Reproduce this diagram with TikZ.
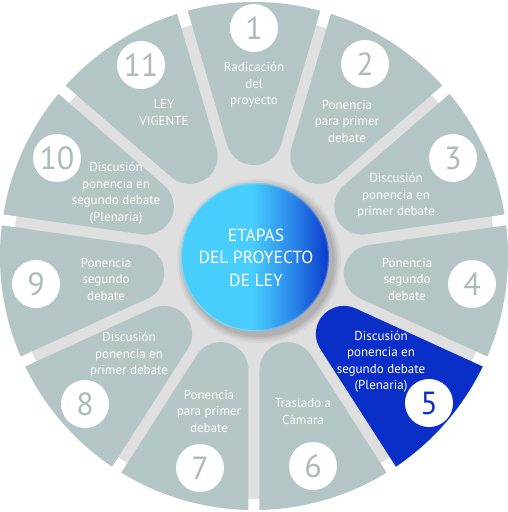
\documentclass[tikz,border=0pt]{standalone}
\usepackage{fontspec}
\setmainfont{PT Sans}
\usetikzlibrary{calc}
\definecolor{wedgegray}{HTML}{B4C5C5}
\definecolor{wedgeblue}{HTML}{0A2FC8}
\definecolor{bggray}{HTML}{DFDFDF}
\definecolor{numgray}{HTML}{A9BCBB}
\definecolor{ballcyan}{HTML}{48CEFC}
\definecolor{ballmid}{HTML}{2C8AEB}
\definecolor{balldark}{HTML}{0B3BCB}
\pgfdeclarehorizontalshading{ballshade}{100bp}{color(0bp)=(ballcyan); color(49bp)=(ballcyan); color(62bp)=(ballmid); color(75bp)=(balldark); color(100bp)=(balldark)}
\tikzset{
  numcirc/.style={circle, fill=white, minimum size=48, inner sep=0pt, text=numgray, font=\fontsize{32}{32}\selectfont},
  lbl/.style={align=center, text=white, inner sep=0pt, font=\fontsize{13}{16.5}\selectfont},
  centerlbl/.style={align=center, text=white, inner sep=0pt, font=\fontsize{17.5}{22.5}\selectfont}
}
\begin{document}
\begin{tikzpicture}[x=1pt,y=1pt]
\useasboundingbox (-254,-256) rectangle (254,256);
\fill[bggray] (0,-2) circle (241);
\pgfmathsetmacro\al{360/22}
\pgfmathsetmacro\g{5.5}
\pgfmathsetmacro\dd{\g/sin(\al)}
\pgfmathsetmacro\rc{28}
\pgfmathsetmacro\DD{\rc/sin(\al)}
\begin{scope}
\clip (0,0) circle (254);
\foreach \k in {1,...,11}{
  \pgfmathsetmacro\th{90-(\k-1)*360/11}
  \pgfmathsetmacro\cx{(\dd+\DD)*cos(\th)}
  \pgfmathsetmacro\cy{(\dd+\DD)*sin(\th)}
  \pgfmathsetmacro\sa{\th+\al+90}
  \pgfmathsetmacro\ea{\th-\al+270}
  \pgfmathsetmacro\ra{\th-\al}
  \pgfmathsetmacro\la{\th+\al}
  \ifnum\k=5 \def\wc{wedgeblue}\else\def\wc{wedgegray}\fi
  \fill[\wc] ($(\cx,\cy)+(\sa:\rc)$) arc[start angle=\sa, end angle=\ea, radius=\rc]
     -- ++(\ra:330) -- ($(\cx,\cy)+(\sa:\rc)+(\la:330)$) -- cycle;
}
\end{scope}
% center ball shadow
\foreach \r/\o in {82/0.04,80/0.05,78/0.06,76/0.07}{
  \fill[black, opacity=\o] (5,-5) circle (\r);
}
\shade[shading=ballshade] (1,-1) circle (74);
\draw[white, opacity=0.25, line width=1pt] (1,-1) circle (73.5);
\node[centerlbl] (center) at (2,-1.5) {ETAPAS\\DEL PROYECTO\\DE LEY};
% numbers
\node[numcirc] (n1) at (0,228) {1};
\node[numcirc] (n2) at (111,192) {2};
\node[numcirc] (n3) at (199,98) {3};
\node[numcirc] (n4) at (218,-28) {4};
\node[numcirc, text=wedgeblue] (n5) at (175,-147) {5};
\node[numcirc] (n6) at (59,-210) {6};
\node[numcirc] (n7) at (-54,-212) {7};
\node[numcirc] (n8) at (-169,-148) {8};
\node[numcirc] (n9) at (-218,-28) {9};
\node[numcirc] (n10) at (-197,98) {10};
\node[numcirc] (n11) at (-113,191) {11};
% labels
\node[lbl] (t1) at (0,171) {Radicación\\del\\proyecto};
\node[lbl] (t2) at (93,135) {Ponencia\\para primer\\debate};
\node[lbl] (t3) at (142,60) {Discusión\\ponencia en\\primer debate};
\node[lbl] (t4) at (153,-23) {Ponencia\\segundo\\debate};
\node[lbl] (t5) at (127,-105.5) {Discusión\\ponencia en\\segundo debate\\(Plenaria)};
\node[lbl] (t6) at (49,-155.5) {Traslado a\\Cámara};
\node[lbl] (t7) at (-45,-155) {Ponencia\\para primer\\debate};
\node[lbl] (t8) at (-125,-99) {Discusión\\ponencia en\\primer debate};
\node[lbl] (t9) at (-148,-23) {Ponencia\\segundo\\debate};
\node[lbl] (t10) at (-138,63) {Discusión\\ponencia en\\segundo debate\\(Plenaria)};
\node[lbl] (t11) at (-90,143.5) {LEY\\VIGENTE};
\end{tikzpicture}
\end{document}
